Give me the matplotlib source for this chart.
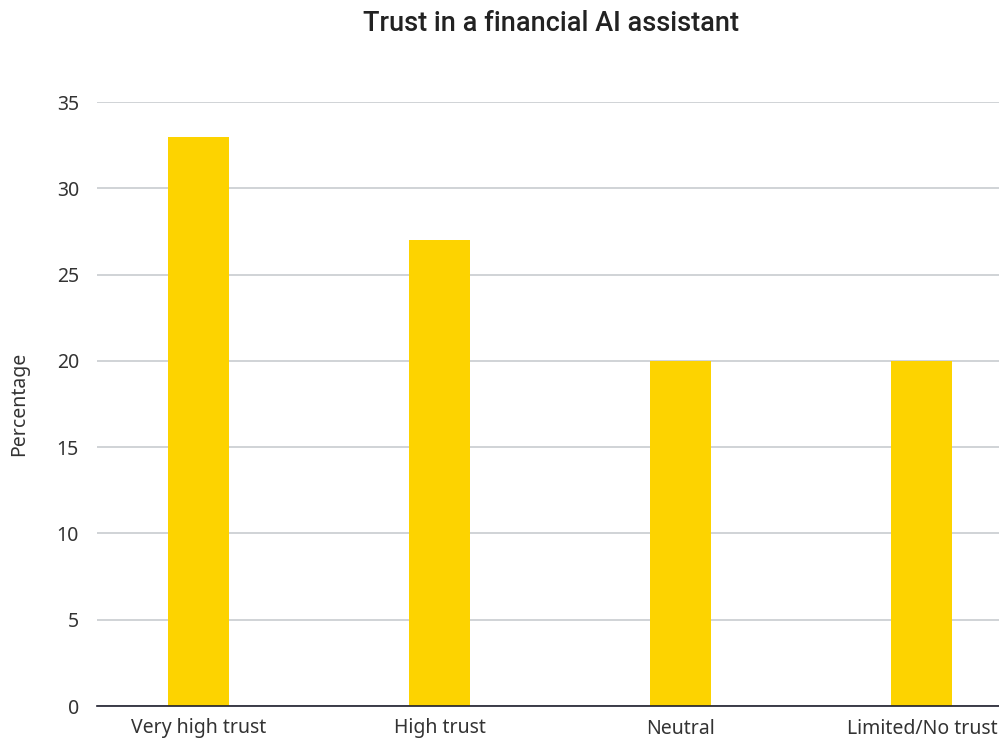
import numpy as np
import matplotlib
matplotlib.use("Agg")
import matplotlib.pyplot as plt

# survey answers
categories = ["Very high trust", "High trust", "Neutral", "Limited/No trust"]
percentages = [33, 27, 20, 20]
yticks = [0, 5, 10, 15, 20, 25, 30, 35]

plt.rcParams['font.family'] = ['Noto Sans', 'DejaVu Sans']

fig = plt.figure(figsize=(9.99, 7.43), dpi=100)
ax = fig.add_axes([97 / 999, 37 / 743, 902 / 999, 604 / 743])

x = np.arange(len(categories))
ax.bar(x, percentages, width=0.253, color="#FDD300", zorder=3)

ax.set_xlim(-0.423, 3.32)
ax.set_ylim(0, 35)
ax.set_yticks(yticks)
ax.set_xticks(x)
ax.set_xticklabels(categories)
ax.grid(axis="y", color="#C8CCD0", linewidth=1.2, zorder=0)
ax.tick_params(axis="both", length=0, labelsize=14, colors="#333333")
ax.tick_params(axis="x", pad=9)
ax.tick_params(axis="y", pad=13)

for side in ["left", "right", "top"]:
    ax.spines[side].set_visible(False)
ax.spines["bottom"].set_color("#1E1E2C")
ax.spines["bottom"].set_linewidth(1.2)
ax.spines["bottom"].set_zorder(4)

ax.set_ylabel("Percentage", fontsize=14, color="#333333", labelpad=20)
fig.text(0.552, 0.968, "Trust in a financial AI assistant", ha="center", va="center",
         fontsize=19.5, fontweight="medium", family=["Roboto", "DejaVu Sans"],
         color="#222222")

plt.savefig("out.png", dpi=100)
